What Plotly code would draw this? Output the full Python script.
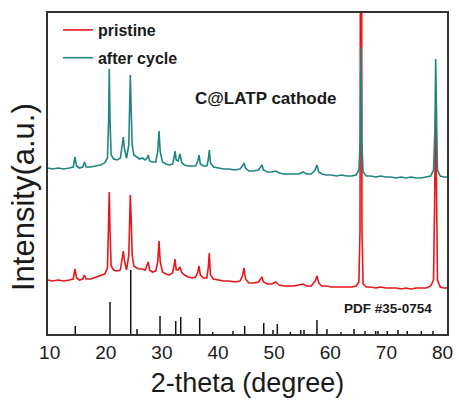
import plotly.graph_objects as go

# ---- data (intensity in arbitrary units) ----
two_theta_after = [9.7, 10.5, 11.5, 12.5, 13.5, 14.2, 14.5, 14.8, 15.3, 15.9, 16.2, 16.5, 17.3, 18.2, 19.0, 19.8,
                   20.3, 20.5, 20.62, 20.75, 20.95, 21.4, 22.0, 22.6, 22.95, 23.12, 23.3, 23.7, 24.1, 24.25, 24.37,
                   24.5, 24.7, 25.0, 25.5, 26.0, 26.5, 27.0, 27.35, 27.57, 27.8, 28.3, 28.9, 29.25, 29.48, 29.7,
                   30.1, 30.7, 31.3, 31.9, 32.15, 32.33, 32.55, 32.9, 33.22, 33.5, 34.0, 34.7, 35.4, 36.0, 36.4,
                   36.61, 36.85, 37.4, 38.0, 38.25, 38.44, 38.65, 39.2, 40.0, 41.0, 42.0, 43.0, 43.9, 44.35, 44.62,
                   44.9, 45.5, 46.3, 47.2, 47.6, 47.83, 48.1, 48.8, 49.6, 50.27, 50.9, 51.7, 52.6, 53.5, 54.4, 55.14,
                   55.8, 56.6, 57.3, 57.63, 57.95, 58.5, 59.3, 60.2, 61.1, 62.0, 62.9, 63.8, 64.6, 65.1, 65.35,
                   65.47, 65.6, 65.85, 66.4, 67.2, 68.1, 69.0, 69.9, 70.8, 71.7, 72.6, 73.5, 74.4, 75.3, 76.2, 77.1,
                   77.9, 78.4, 78.65, 78.78, 78.9, 79.1, 79.6, 80.2, 80.8]
intensity_after = [166, 165, 166, 165, 166, 167, 177, 168, 166, 167, 172, 167, 167, 168, 169, 171,
                   176, 214, 265, 214, 179, 175, 174, 176, 188, 197, 186, 176, 189, 234, 259,
                   229, 189, 179, 177, 175, 176, 174, 176, 179, 173, 172, 172, 182, 203, 182,
                   172, 170, 169, 170, 176, 183, 174, 173, 180, 172, 169, 168, 168, 168, 173,
                   179, 170, 168, 168, 174, 184, 171, 167, 166, 165, 165, 164, 165, 168, 171,
                   166, 163, 163, 164, 167, 169, 164, 162, 162, 163, 161, 160, 160, 160, 160, 162,
                   160, 160, 164, 169, 162, 160, 159, 159, 158, 159, 158, 158, 159, 164, 194,
                   287, 194, 162, 158, 158, 157, 158, 157, 157, 156, 157, 156, 157, 156, 156, 157,
                   158, 164, 204, 275, 204, 164, 158, 157, 157]

two_theta_pristine = [9.7, 10.5, 11.5, 12.5, 13.5, 14.2, 14.5, 14.8, 15.3, 15.9, 16.17, 16.5, 17.3, 18.2, 19.0, 19.8,
                      20.3, 20.5, 20.62, 20.75, 20.95, 21.4, 22.0, 22.6, 22.95, 23.12, 23.3, 23.7, 24.1, 24.25, 24.37,
                      24.5, 24.7, 25.0, 25.5, 26.0, 26.5, 27.0, 27.35, 27.57, 27.8, 28.3, 28.9, 29.25, 29.48, 29.7,
                      30.1, 30.7, 31.3, 31.9, 32.15, 32.33, 32.55, 32.9, 33.22, 33.5, 34.0, 34.7, 35.4, 36.0, 36.4,
                      36.61, 36.85, 37.4, 38.0, 38.25, 38.44, 38.65, 39.2, 40.0, 41.0, 42.0, 43.0, 43.9, 44.35, 44.62,
                      44.9, 45.5, 46.3, 47.2, 47.6, 47.83, 48.1, 48.8, 49.6, 50.27, 50.9, 51.7, 52.6, 53.5, 54.4, 55.14,
                      55.8, 56.6, 57.3, 57.63, 57.95, 58.5, 59.3, 60.2, 61.1, 62.0, 62.9, 63.8, 64.6, 65.1, 65.3,
                      65.4, 65.55, 65.65, 65.85, 66.4, 67.2, 68.1, 69.0, 69.9, 70.8, 71.7, 72.6, 73.5, 74.4, 75.3, 76.2,
                      77.1, 77.9, 78.4, 78.6, 78.78, 78.95, 79.1, 79.6, 80.2, 80.8]
intensity_pristine = [54, 53, 54, 53, 54, 55, 65, 56, 54, 55, 59, 55, 55, 57, 58, 60,
                      66, 104, 142, 104, 68, 64, 63, 64, 76, 83, 74, 64, 79, 119, 139,
                      119, 79, 68, 66, 65, 65, 64, 68, 72, 64, 62, 63, 72, 93, 72,
                      62, 60, 59, 61, 68, 75, 64, 64, 67, 62, 59, 57, 56, 57, 62,
                      68, 59, 56, 56, 66, 81, 59, 55, 54, 53, 53, 52, 53, 58, 66,
                      55, 51, 51, 52, 55, 57, 52, 50, 50, 52, 49, 48, 48, 48, 49, 50,
                      48, 48, 53, 58, 51, 48, 48, 47, 47, 47, 47, 47, 48, 52, 104,
                      534, 534, 104, 50, 47, 47, 46, 47, 46, 46, 46, 45, 46, 45, 46, 46,
                      46, 48, 54, 134, 224, 134, 54, 47, 46, 46]

pdf_positions = [14.56, 20.75, 24.44, 25.56, 29.66, 32.46, 33.35, 36.73, 39.05, 42.66, 44.75, 48.14,
                 49.79, 50.56, 52.88, 54.73, 55.32, 57.63, 59.41, 61.91, 64.23, 66.19, 68.09, 68.50,
                 70.16, 72.07, 73.72, 76.22, 78.30]
pdf_heights = [8, 32, 64, 5, 18, 13, 17, 16, 2, 3, 8, 11,
               4, 10, 2, 4, 4, 14, 5, 2, 5, 3, 3, 3,
               3, 4, 3, 3, 3]

x_ticks = [10, 20, 30, 40, 50, 60, 70, 80]

RED = "#e8161b"
TEAL = "#1f8582"
FONT = "Liberation Sans, Arial, sans-serif"

stick_x, stick_y = [], []
for p, h in zip(pdf_positions, pdf_heights):
    stick_x += [p, p, None]
    stick_y += [0, h, None]

fig = go.Figure()
fig.add_trace(go.Scatter(x=two_theta_pristine, y=intensity_pristine, mode="lines", name="pristine",
                         line=dict(color=RED, width=1.6), legendgroup="a"))
fig.add_trace(go.Scatter(x=two_theta_after, y=intensity_after, mode="lines", name="after cycle",
                         line=dict(color=TEAL, width=1.6), legendgroup="b"))
fig.add_trace(go.Scatter(x=stick_x, y=stick_y, mode="lines", name="PDF #35-0754",
                         line=dict(color="#111111", width=1.5), showlegend=False))

fig.update_layout(
    width=459, height=405,
    margin=dict(l=48, r=12, t=13, b=71),
    paper_bgcolor="white", plot_bgcolor="white",
    font=dict(family=FONT, color="#1a1a1a"),
    showlegend=True,
    legend=dict(x=0.025, y=1.0, xanchor="left", yanchor="top", bgcolor="rgba(0,0,0,0)",
                font=dict(size=16, family=FONT, color="#1a1a1a", weight="bold"),
                traceorder="grouped", tracegroupgap=4, itemwidth=30),
    xaxis=dict(range=[9.7, 80.8], tickvals=x_ticks, ticks="", showgrid=False, zeroline=False,
               automargin=False,
               showline=True, mirror=True, linecolor="#333333", linewidth=1.5,
               tickfont=dict(size=19, color="#1a1a1a"),
               title=dict(text="2-theta (degree)", font=dict(size=27, color="#1a1a1a"), standoff=12)),
    yaxis=dict(range=[0, 321], showticklabels=False, ticks="", showgrid=False, zeroline=False,
               automargin=False,
               showline=True, mirror=True, linecolor="#333333", linewidth=1.5),
    annotations=[
        dict(x=23, y=197, xref="paper", yref="paper", text="Intensity(a.u.)", showarrow=False,
             textangle=-90, font=dict(size=31, family=FONT, color="#1a1a1a"),
             xanchor="center", yanchor="middle"),
        dict(x=0.546, y=0.735, xref="paper", yref="paper", text="<b>C@LATP cathode</b>", showarrow=False,
             font=dict(size=17, family=FONT, color="#1a1a1a"), xanchor="center", yanchor="middle"),
        dict(x=0.853, y=0.078, xref="paper", yref="paper", text="<b>PDF #35-0754</b>", showarrow=False,
             font=dict(size=13.5, family=FONT, color="#1a1a1a"), xanchor="center", yanchor="middle"),
    ],
)
# place the rotated y-axis title in paper units (left of the plot frame)
fig.layout.annotations[0].update(x=(23 - 48) / 399, y=(334 - 197) / 321)

fig.write_html("out.html")
